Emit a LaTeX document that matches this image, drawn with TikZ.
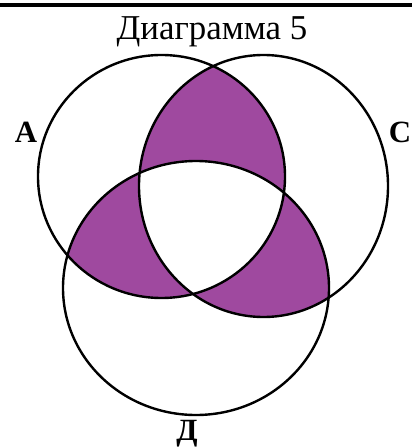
\documentclass[tikz,border=0pt]{standalone}
\usepackage{fontspec}
\setmainfont{Liberation Serif}
\definecolor{venn}{RGB}{159,73,159}
\begin{document}
\begin{tikzpicture}[x=1bp,y=-1bp,
  circ/.style={line width=2.4bp,draw=black},
  lab/.style={font=\fontsize{31}{31}\selectfont\bfseries,inner sep=0pt,anchor=base}]
\useasboundingbox (0,0) rectangle (412,448);
\def\shA{(161.5,176.5) ellipse [x radius=123.5, y radius=121.5]}
\def\shC{(263.5,186) ellipse [x radius=124.5, y radius=131]}
\def\shD{(196,288) ellipse [x radius=133, y radius=127]}
\begin{scope}\clip \shA; \fill[venn] \shC;\end{scope}
\begin{scope}\clip \shA; \fill[venn] \shD;\end{scope}
\begin{scope}\clip \shC; \fill[venn] \shD;\end{scope}
\begin{scope}\clip \shA; \clip \shC; \fill[white] \shD;\end{scope}
\draw[circ] \shA;
\draw[circ] \shC;
\draw[circ] \shD;
\draw[line width=4bp] (0,5) coordinate (l1) -- (412,5) coordinate (l2);
\node[font=\fontsize{35}{35}\selectfont,inner sep=0pt,anchor=base] (title) at (212,40) {Диаграмма 5};
\node[lab] (la) at (26,143) {А};
\node[lab] (lc) at (400,143) {С};
\node[lab] (ld) at (187,440) {Д};
\end{tikzpicture}
\end{document}
